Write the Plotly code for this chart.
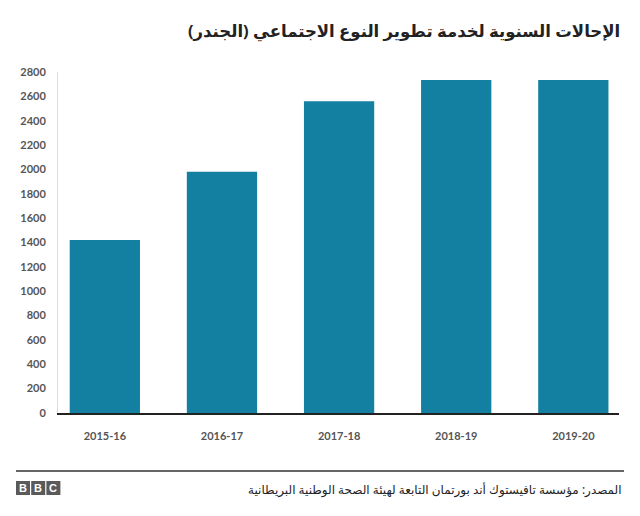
import plotly.graph_objects as go

years = ["2015-16", "2016-17", "2017-18", "2018-19", "2019-20"]
referrals = [1420, 1980, 2560, 2735, 2735]
y_ticks = list(range(0, 2801, 200))

title_text = "الإحالات السنوية لخدمة تطوير النوع الاجتماعي (الجندر)"
source_text = "المصدر: مؤسسة تافيستوك أند بورتمان التابعة لهيئة الصحة الوطنية البريطانية"

OFF = 8  # page body margin
W, H = 640 - OFF, 516 - OFF
L, R, T, B = 58 - OFF, 21, 72 - OFF, 103
PW, PH = W - L - R, H - T - B

def px(x):
    return (x - OFF - L) / PW

def py(y):
    return (H - B - (y - OFF)) / PH

fig = go.Figure(go.Bar(
    x=list(range(len(years))), y=referrals, width=0.6,
    marker=dict(color="#1380A1", line=dict(width=0)),
    hoverinfo="skip",
))

fig.update_layout(
    width=W, height=H,
    margin=dict(l=L, r=R, t=T, b=B, autoexpand=False),
    paper_bgcolor="white", plot_bgcolor="white",
    showlegend=False,
    bargap=0.4,
    xaxis=dict(
        range=[-0.4, 4.39], tickmode="array", tickvals=list(range(len(years))),
        ticktext=years, showgrid=False, zeroline=False, showline=True,
        linecolor="#222222", linewidth=2, ticks="", ticklen=0,
        tickfont=dict(family="Lato", size=11, color="#555555", weight="bold"),
        ticklabelstandoff=12,
        fixedrange=True,
    ),
    yaxis=dict(
        range=[0, 2800], tickmode="array", tickvals=y_ticks,
        ticktext=[str(v) for v in y_ticks],
        showgrid=False, zeroline=False, showline=True,
        linecolor="#dddddd", linewidth=1, ticks="",
        tickfont=dict(family="Lato", size=11, color="#555555", weight="bold"),
        ticklabelstandoff=9,
        fixedrange=True,
    ),
)

annotations = [
    dict(text="<b>" + title_text + "</b>", x=px(622), y=py(30), xref="paper", yref="paper",
         xanchor="right", yanchor="middle", showarrow=False,
         font=dict(family="Noto Sans, DejaVu Sans", size=16.5, color="#222222")),
    dict(text=source_text, x=px(624), y=py(489), xref="paper", yref="paper",
         xanchor="right", yanchor="middle", showarrow=False,
         font=dict(family="Noto Sans, DejaVu Sans", size=12, color="#222222")),
]

shapes = [
    dict(type="line", xref="paper", yref="paper", x0=px(16), x1=px(624),
         y0=py(471), y1=py(471), line=dict(color="#333333", width=1.5)),
]

for i, letter in enumerate(["B", "B", "C"]):
    x0 = 16 + i * 15.2
    x1 = x0 + 14
    shapes.append(dict(type="rect", xref="paper", yref="paper",
                       x0=px(x0), x1=px(x1), y0=py(495), y1=py(481),
                       fillcolor="#5a5a5a", line=dict(width=0)))
    annotations.append(dict(text="<b>" + letter + "</b>", x=px((x0 + x1) / 2), y=py(488),
                            xref="paper", yref="paper", xanchor="center", yanchor="middle",
                            showarrow=False,
                            font=dict(family="Liberation Sans", size=11, color="white")))

fig.update_layout(annotations=annotations, shapes=shapes)

fig.write_html("out.html")
